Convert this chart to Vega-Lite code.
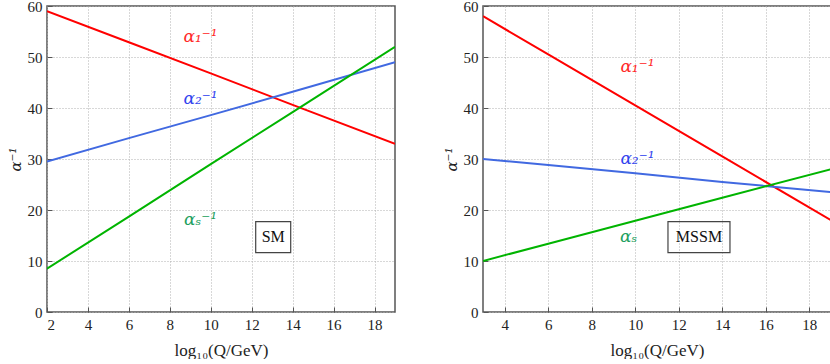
{
  "$schema": "https://vega.github.io/schema/vega-lite/v6.json",
  "padding": {"left": 7, "top": -2, "right": 1, "bottom": 0},
  "spacing": 47,
  "config": {
    "font": "Liberation Serif",
    "view": {"stroke": "#555", "strokeWidth": 1.5},
    "axis": {
      "domain": false,
      "grid": true,
      "gridColor": "#b0b0b0",
      "gridDash": [1, 2],
      "tickColor": "#555",
      "tickSize": -5,
      "labelFont": "Liberation Serif",
      "labelFontSize": 15,
      "labelColor": "#222",
      "labelPadding": 10,
      "titleFont": "Liberation Serif",
      "titleFontSize": 17,
      "titleFontWeight": "normal",
      "titleColor": "#222"
    }
  },
  "datasets": {
    "curves": [
      {"model": "SM", "series": "a1", "logQ": 2, "inv": 59},
      {"model": "SM", "series": "a1", "logQ": 6, "inv": 52.9},
      {"model": "SM", "series": "a1", "logQ": 10, "inv": 46.8},
      {"model": "SM", "series": "a1", "logQ": 14, "inv": 40.6},
      {"model": "SM", "series": "a1", "logQ": 19, "inv": 33},
      {"model": "SM", "series": "a2", "logQ": 2, "inv": 29.5},
      {"model": "SM", "series": "a2", "logQ": 6, "inv": 34.1},
      {"model": "SM", "series": "a2", "logQ": 10, "inv": 38.6},
      {"model": "SM", "series": "a2", "logQ": 14, "inv": 43.2},
      {"model": "SM", "series": "a2", "logQ": 19, "inv": 49},
      {"model": "SM", "series": "as", "logQ": 2, "inv": 8.5},
      {"model": "SM", "series": "as", "logQ": 6, "inv": 18.7},
      {"model": "SM", "series": "as", "logQ": 10, "inv": 29},
      {"model": "SM", "series": "as", "logQ": 14, "inv": 39.2},
      {"model": "SM", "series": "as", "logQ": 19, "inv": 52},
      {"model": "MSSM", "series": "a1", "logQ": 3, "inv": 58},
      {"model": "MSSM", "series": "a1", "logQ": 6, "inv": 50.5},
      {"model": "MSSM", "series": "a1", "logQ": 10, "inv": 40.5},
      {"model": "MSSM", "series": "a1", "logQ": 14, "inv": 30.5},
      {"model": "MSSM", "series": "a1", "logQ": 19, "inv": 18},
      {"model": "MSSM", "series": "a2", "logQ": 3, "inv": 30},
      {"model": "MSSM", "series": "a2", "logQ": 6, "inv": 28.8},
      {"model": "MSSM", "series": "a2", "logQ": 10, "inv": 27.2},
      {"model": "MSSM", "series": "a2", "logQ": 14, "inv": 25.5},
      {"model": "MSSM", "series": "a2", "logQ": 19, "inv": 23.5},
      {"model": "MSSM", "series": "as", "logQ": 3, "inv": 10},
      {"model": "MSSM", "series": "as", "logQ": 6, "inv": 13.4},
      {"model": "MSSM", "series": "as", "logQ": 10, "inv": 17.9},
      {"model": "MSSM", "series": "as", "logQ": 14, "inv": 22.4},
      {"model": "MSSM", "series": "as", "logQ": 19, "inv": 28}
    ],
    "labels": [
      {"model": "SM", "series": "a1", "logQ": 9.5, "inv": 54, "text": "α₁⁻¹"},
      {"model": "SM", "series": "a2", "logQ": 9.5, "inv": 41.7, "text": "α₂⁻¹"},
      {"model": "SM", "series": "as", "logQ": 9.5, "inv": 18, "text": "αₛ⁻¹"},
      {"model": "MSSM", "series": "a1", "logQ": 10.1, "inv": 48, "text": "α₁⁻¹"},
      {"model": "MSSM", "series": "a2", "logQ": 10.1, "inv": 30, "text": "α₂⁻¹"},
      {"model": "MSSM", "series": "as", "logQ": 9.7, "inv": 14.7, "text": "αₛ"}
    ],
    "boxes": [
      {"model": "SM", "logQ": 13.05, "inv": 14.7, "text": "SM"},
      {"model": "MSSM", "logQ": 12.93, "inv": 14.7, "text": "MSSM"}
    ]
  },
  "hconcat": [
    {
      "width": 348,
      "height": 306,
      "resolve": {"scale": {"color": "independent"}},
      "layer": [
        {
          "data": {"name": "curves"},
          "transform": [{"filter": "datum.model === 'SM'"}],
          "mark": {"type": "line", "strokeWidth": 2, "clip": true},
          "encoding": {
            "x": {"field": "logQ", "type": "quantitative", "scale": {"domain": [2, 19], "nice": false, "zero": false}, "axis": {"values": [2, 4, 6, 8, 10, 12, 14, 16, 18], "title": "log₁₀(Q/GeV)", "titlePadding": 10}},
            "y": {"field": "inv", "type": "quantitative", "scale": {"domain": [0, 60]}, "axis": {"values": [0, 10, 20, 30, 40, 50, 60], "title": "α⁻¹", "titlePadding": 4, "titleFont": "DejaVu Serif", "titleFontStyle": "italic", "titleFontSize": 15}},
            "color": {"field": "series", "type": "nominal", "scale": {"domain": ["a1", "a2", "as"], "range": ["#ff0000", "#4169e1", "#00b400"]}, "legend": null}
          }
        },
        {
          "data": {"name": "labels"},
          "transform": [{"filter": "datum.model === 'SM'"}],
          "mark": {"type": "text", "fontSize": 17, "fontStyle": "italic", "font": "DejaVu Serif"},
          "encoding": {
            "x": {"field": "logQ", "type": "quantitative"},
            "y": {"field": "inv", "type": "quantitative"},
            "text": {"field": "text"},
            "color": {"field": "series", "type": "nominal", "scale": {"domain": ["a1", "a2", "as"], "range": ["#ff2a2a", "#3344ee", "#1fa060"]}, "legend": null}
          }
        },
        {
          "data": {"name": "boxes"},
          "transform": [{"filter": "datum.model === 'SM'"}],
          "mark": {"type": "point", "shape": "M-1,-0.886H1V0.886H-1Z", "size": 1225, "filled": false, "stroke": "#444", "strokeWidth": 1.2, "opacity": 1},
          "encoding": {
            "x": {"field": "logQ", "type": "quantitative"},
            "y": {"field": "inv", "type": "quantitative"}
          }
        },
        {
          "data": {"name": "boxes"},
          "transform": [{"filter": "datum.model === 'SM'"}],
          "mark": {"type": "text", "fontSize": 16, "color": "#111", "font": "Liberation Serif"},
          "encoding": {
            "x": {"field": "logQ", "type": "quantitative"},
            "y": {"field": "inv", "type": "quantitative"},
            "text": {"field": "text"}
          }
        }
      ]
    },
    {
      "width": 348,
      "height": 306,
      "resolve": {"scale": {"color": "independent"}},
      "layer": [
        {
          "data": {"name": "curves"},
          "transform": [{"filter": "datum.model === 'MSSM'"}],
          "mark": {"type": "line", "strokeWidth": 2, "clip": true},
          "encoding": {
            "x": {"field": "logQ", "type": "quantitative", "scale": {"domain": [3, 19], "nice": false, "zero": false}, "axis": {"values": [4, 6, 8, 10, 12, 14, 16, 18], "title": "log₁₀(Q/GeV)", "titlePadding": 10}},
            "y": {"field": "inv", "type": "quantitative", "scale": {"domain": [0, 60]}, "axis": {"values": [0, 10, 20, 30, 40, 50, 60], "title": "α⁻¹", "titlePadding": 4, "titleFont": "DejaVu Serif", "titleFontStyle": "italic", "titleFontSize": 15}},
            "color": {"field": "series", "type": "nominal", "scale": {"domain": ["a1", "a2", "as"], "range": ["#ff0000", "#4169e1", "#00b400"]}, "legend": null}
          }
        },
        {
          "data": {"name": "labels"},
          "transform": [{"filter": "datum.model === 'MSSM'"}],
          "mark": {"type": "text", "fontSize": 17, "fontStyle": "italic", "font": "DejaVu Serif"},
          "encoding": {
            "x": {"field": "logQ", "type": "quantitative"},
            "y": {"field": "inv", "type": "quantitative"},
            "text": {"field": "text"},
            "color": {"field": "series", "type": "nominal", "scale": {"domain": ["a1", "a2", "as"], "range": ["#ff2a2a", "#3344ee", "#1fa060"]}, "legend": null}
          }
        },
        {
          "data": {"name": "boxes"},
          "transform": [{"filter": "datum.model === 'MSSM'"}],
          "mark": {"type": "point", "shape": "M-1,-0.5H1V0.5H-1Z", "size": 3844, "filled": false, "stroke": "#444", "strokeWidth": 1.2, "opacity": 1},
          "encoding": {
            "x": {"field": "logQ", "type": "quantitative"},
            "y": {"field": "inv", "type": "quantitative"}
          }
        },
        {
          "data": {"name": "boxes"},
          "transform": [{"filter": "datum.model === 'MSSM'"}],
          "mark": {"type": "text", "fontSize": 16, "color": "#111", "font": "Liberation Serif"},
          "encoding": {
            "x": {"field": "logQ", "type": "quantitative"},
            "y": {"field": "inv", "type": "quantitative"},
            "text": {"field": "text"}
          }
        }
      ]
    }
  ]
}
